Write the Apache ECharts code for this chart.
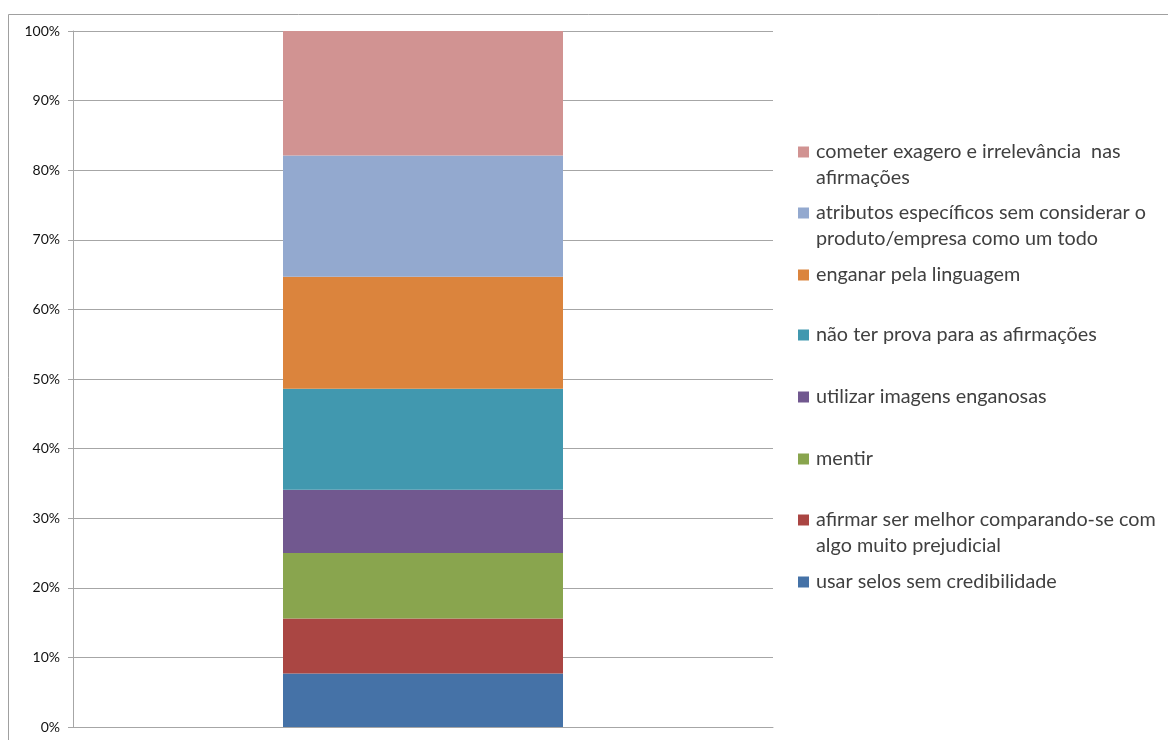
<!DOCTYPE html>
<html>
<head>
<meta charset="utf-8">
<title>chart</title>
<script src="https://cdn.jsdelivr.net/npm/echarts@6/dist/echarts.min.js"></script>
<style>
  html, body { margin: 0; padding: 0; background: #fff; }
  #main { width: 1168px; height: 740px; }
</style>
</head>
<body>
<div id="main"></div>
<script>
// categorias de baixo para cima (ordem da pilha)
const names = [
  'usar selos sem credibilidade',
  'afirmar ser melhor comparando-se com\nalgo muito prejudicial',
  'mentir',
  'utilizar imagens enganosas',
  'não ter prova para as afirmações',
  'enganar pela linguagem',
  'atributos específicos sem considerar o\nproduto/empresa como um todo',
  'cometer exagero e irrelevância  nas\nafirmações'
];
const values = [7.7, 7.9, 9.4, 9.1, 14.5, 16.1, 17.4, 17.9];
const colors = ['#4572a7', '#aa4643', '#89a54e', '#71588f', '#4198af', '#db843d', '#93a9cf', '#d19392'];
const yTicks = [0, 10, 20, 30, 40, 50, 60, 70, 80, 90, 100];

// centro do ícone de cada item da legenda (px)
const legendCenter = [582, 520, 459, 397, 335, 275, 213, 152];
const lineH = 26;

const chart = echarts.init(document.getElementById('main'));

let series = [];
let legends = [];
names.forEach((n, i) => {
  series.push({
    name: n,
    type: 'bar',
    stack: 'total',
    barWidth: '40%',
    itemStyle: {color: colors[i]},
    data: [values[i]]
  });
  let twoLines = n.indexOf('\n') >= 0;
  legends.push({
    data: [n],
    left: 798,
    top: legendCenter[i] - (twoLines ? lineH * 1.5 : lineH / 2),
    padding: 0,
    itemWidth: 11,
    itemHeight: 11,
    icon: 'rect',
    selectedMode: false,
    // linha vazia em cima para o ícone ficar na primeira linha
    formatter: twoLines ? (name => '\n' + name) : null,
    textStyle: {
      fontFamily: 'Lato',
      fontSize: 19.8,
      color: '#404040',
      lineHeight: lineH,
      padding: [0, 0, 0, 2]
    }
  });
});

const option = {
  animation: false,
  backgroundColor: '#fff',
  graphic: [{
    type: 'rect',
    z: -1,
    shape: {x: 8.5, y: 14.5, width: 1300, height: 900},
    style: {fill: 'none', stroke: '#a0a0a0', lineWidth: 1}
  }],
  legend: legends,
  grid: {left: 73, top: 31, width: 700, height: 696},
  xAxis: {
    type: 'category',
    data: [''],
    axisLine: {lineStyle: {color: '#a6a6a6'}},
    axisTick: {show: false},
    axisLabel: {show: false}
  },
  yAxis: {
    type: 'value',
    min: yTicks[0],
    max: yTicks[yTicks.length - 1],
    interval: 10,
    axisLine: {show: true, lineStyle: {color: '#a6a6a6'}},
    axisTick: {show: true, length: 5, lineStyle: {color: '#a6a6a6'}},
    splitLine: {lineStyle: {color: '#a6a6a6'}},
    axisLabel: {
      margin: 13,
      formatter: '{value}%',
      fontFamily: 'Lato',
      fontSize: 14,
      color: '#111'
    }
  },
  series: series
};
chart.setOption(option);
</script>
</body>
</html>
